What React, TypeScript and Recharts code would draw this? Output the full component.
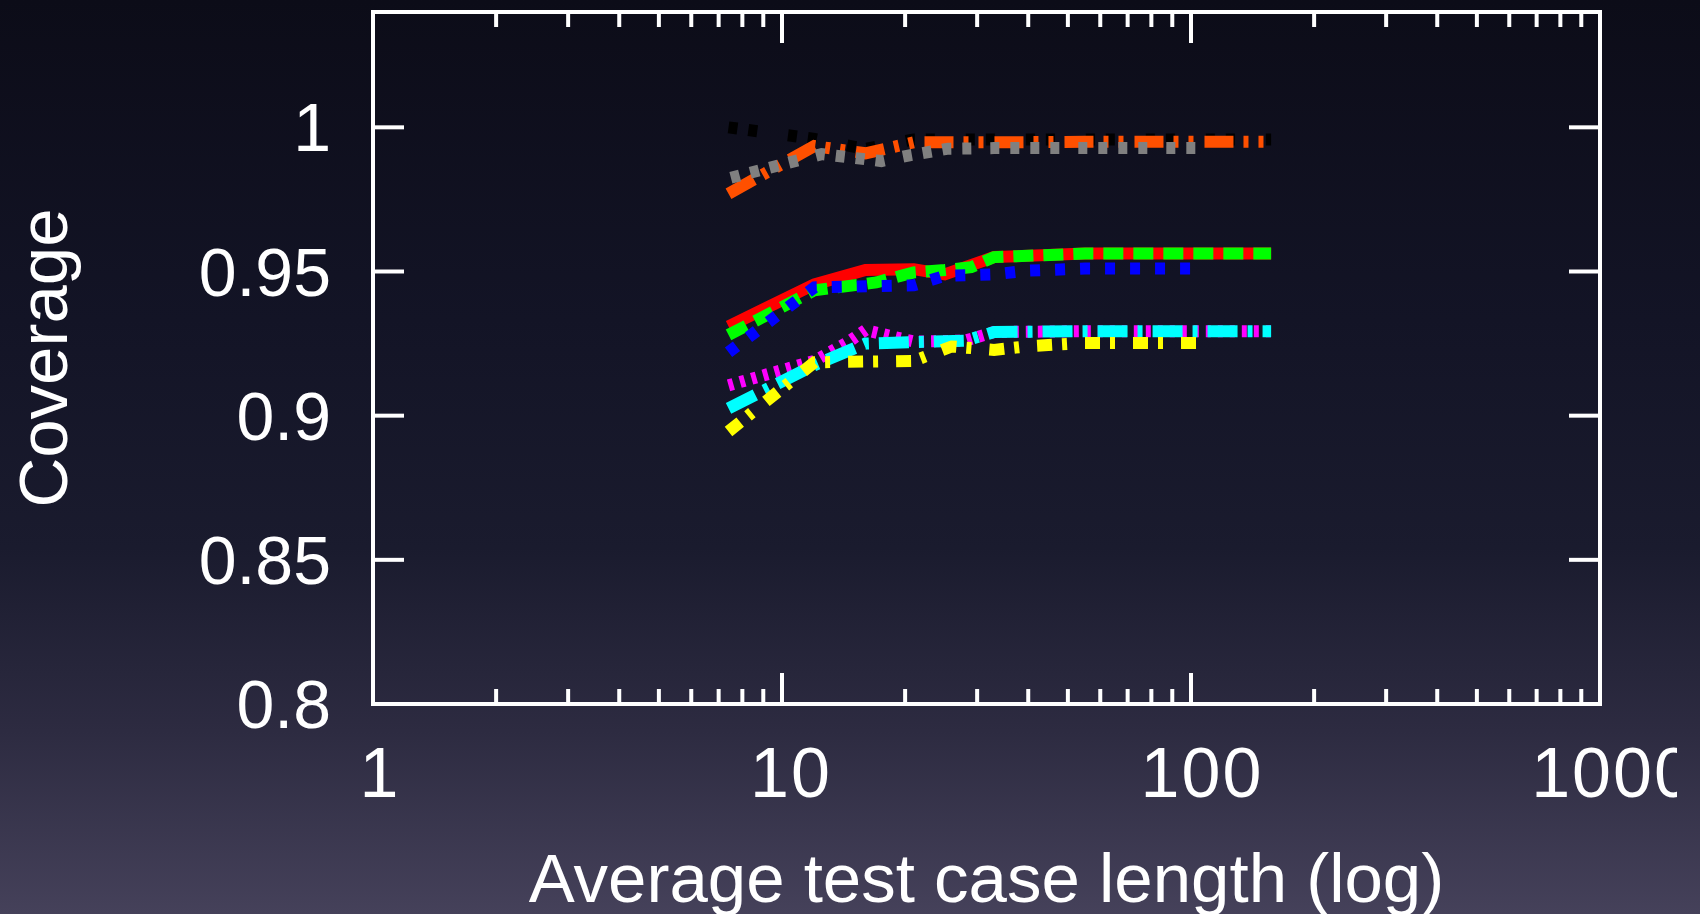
import * as React from "react";
import { LineChart, Line, XAxis, YAxis } from "recharts";

// x = average test case length, y = coverage
const blackSeries = [
  { x: 7.4, y: 1.0 }, { x: 12, y: 0.996 }, { x: 16, y: 0.9925 }, { x: 21, y: 0.9958 },
  { x: 33, y: 0.9958 }, { x: 55, y: 0.9958 }, { x: 105, y: 0.9958 }, { x: 157, y: 0.9958 },
];
const orangeSeries = [
  { x: 7.4, y: 0.977 }, { x: 12, y: 0.9935 }, { x: 16, y: 0.991 }, { x: 21, y: 0.9948 },
  { x: 33, y: 0.9948 }, { x: 55, y: 0.995 }, { x: 105, y: 0.995 }, { x: 157, y: 0.995 },
];
const graySeries = [
  { x: 7.5, y: 0.9825 }, { x: 12.5, y: 0.9907 }, { x: 17.5, y: 0.9883 }, { x: 20.5, y: 0.9903 },
  { x: 25.5, y: 0.9926 }, { x: 33, y: 0.9928 }, { x: 55, y: 0.9928 }, { x: 106, y: 0.9928 },
];
const redSeries = [
  { x: 7.4, y: 0.931 }, { x: 12, y: 0.9455 }, { x: 16, y: 0.9505 }, { x: 21, y: 0.9508 },
  { x: 25, y: 0.949 }, { x: 33, y: 0.955 }, { x: 55, y: 0.9562 }, { x: 157, y: 0.9562 },
];
const greenSeries = [
  { x: 7.4, y: 0.928 }, { x: 12, y: 0.9435 }, { x: 17, y: 0.9462 }, { x: 21, y: 0.9497 },
  { x: 25, y: 0.9505 }, { x: 29, y: 0.9515 }, { x: 33, y: 0.955 }, { x: 55, y: 0.9562 },
  { x: 157, y: 0.9562 },
];
const blueSeries = [
  { x: 7.4, y: 0.922 }, { x: 12, y: 0.9445 }, { x: 21, y: 0.9452 }, { x: 25, y: 0.9485 },
  { x: 33, y: 0.949 }, { x: 40, y: 0.9503 }, { x: 55, y: 0.951 }, { x: 105, y: 0.951 },
];
const magentaSeries = [
  { x: 7.4, y: 0.9105 }, { x: 12, y: 0.919 }, { x: 14.5, y: 0.9255 }, { x: 16, y: 0.9297 },
  { x: 21, y: 0.9257 }, { x: 28, y: 0.926 }, { x: 33, y: 0.929 }, { x: 55, y: 0.9293 },
  { x: 157, y: 0.9293 },
];
const cyanSeries = [
  { x: 7.4, y: 0.9025 }, { x: 12, y: 0.9175 }, { x: 16, y: 0.925 }, { x: 21, y: 0.9255 },
  { x: 28, y: 0.926 }, { x: 33, y: 0.929 }, { x: 55, y: 0.9293 }, { x: 157, y: 0.9293 },
];
const yellowSeries = [
  { x: 7.4, y: 0.8945 }, { x: 12, y: 0.9185 }, { x: 21, y: 0.919 }, { x: 26, y: 0.924 },
  { x: 33, y: 0.9228 }, { x: 40, y: 0.9241 }, { x: 55, y: 0.9252 }, { x: 106, y: 0.9252 },
];

const xMajorTicks = [1, 10, 100, 1000];
const xMinorTicks = [2, 3, 4, 5, 6, 7, 8, 9, 20, 30, 40, 50, 60, 70, 80, 90, 200, 300, 400, 500, 600, 700, 800, 900];
const xAllTicks = [...xMajorTicks, ...xMinorTicks].sort((a, b) => a - b);
const yTicks = [0.8, 0.85, 0.9, 0.95, 1];

const FONT = "'Liberation Sans', Arial, Helvetica, sans-serif";
const WHITE = "#ffffff";
const MAJOR = 31;
const MINOR = 15;

const series = [
  { name: "black", data: blackSeries, color: "#000000", dash: "9 11 9 31" },
  { name: "orange", data: orangeSeries, color: "#ff5000", dash: "29 10 5 10 5 11" },
  { name: "gray", data: graySeries, color: "#808080", dash: "9 11 9 11 9 11 9 19" },
  { name: "red", data: redSeries, color: "#ff0000", dash: undefined },
  { name: "green", data: greenSeries, color: "#00ff00", dash: "20 10" },
  { name: "blue", data: blueSeries, color: "#0000ff", dash: "10 15" },
  { name: "magenta", data: magentaSeries, color: "#ff00ff", dash: "5 7" },
  { name: "cyan", data: cyanSeries, color: "#00ffff", dash: "30 10 5 10" },
  { name: "yellow", data: yellowSeries, color: "#ffff00", dash: "15 10 5 18" },
];

function BottomTick(props: any) {
  const { x, y, payload } = props;
  const major = xMajorTicks.includes(payload.value);
  const label = String(payload.value);
  return (
    <g>
      <line x1={x} x2={x} y1={y} y2={y - (major ? MAJOR : MINOR)} stroke={WHITE} strokeWidth={4} />
      {major && (
        <text x={x + 5 + 2 * label.length} y={y + 43} dy="0.71em" textAnchor="middle" fill={WHITE}
          fontSize={70} fontFamily={FONT} letterSpacing={2}>
          {label}
        </text>
      )}
    </g>
  );
}

function TopTick(props: any) {
  const { x, y, payload } = props;
  const major = xMajorTicks.includes(payload.value);
  return <line x1={x} x2={x} y1={y} y2={y + (major ? MAJOR : MINOR)} stroke={WHITE} strokeWidth={4} />;
}

function LeftTick(props: any) {
  const { x, y, payload } = props;
  return (
    <g>
      <line x1={x} x2={x + MAJOR} y1={y} y2={y} stroke={WHITE} strokeWidth={4} />
      <text x={x - 42} y={y} dy="0.355em" textAnchor="end" fill={WHITE} fontSize={68} fontFamily={FONT}>
        {payload.value}
      </text>
    </g>
  );
}

function RightTick(props: any) {
  const { x, y } = props;
  return <line x1={x} x2={x - MAJOR} y1={y} y2={y} stroke={WHITE} strokeWidth={4} />;
}

const axisLine = { stroke: WHITE, strokeWidth: 4, strokeLinecap: "square" as const };

export default function App() {
  return (
    <div
      style={{
        position: "fixed",
        left: 0,
        top: 0,
        width: 1700,
        height: 914,
        background: "linear-gradient(180deg, #0c0c18 0%, #131426 35%, #1a1b2e 60%, #2d2b41 80%, #45415a 100%)",
      }}
    >
      <div style={{ width: 1677, height: 914, overflow: "hidden" }}>
        <LineChart width={1677} height={914} margin={{ top: 12, right: 77, bottom: 0, left: 0 }}>
          <XAxis
            dataKey="x"
            type="number"
            scale="log"
            domain={[1, 1000]}
            allowDataOverflow
            ticks={xAllTicks}
            interval={0}
            height={210}
            tickSize={0}
            tickMargin={0}
            tickLine={false}
            axisLine={axisLine}
            tick={BottomTick}
            label={(p: any) => {
              const vb = p.viewBox;
              return (
                <text x={vb.x + vb.width / 2} y={902} textAnchor="middle" fill={WHITE} fontSize={69} fontFamily={FONT}>
                  Average test case length (log)
                </text>
              );
            }}
          />
          <XAxis
            xAxisId="top"
            orientation="top"
            mirror
            dataKey="x"
            type="number"
            scale="log"
            domain={[1, 1000]}
            allowDataOverflow
            ticks={xAllTicks}
            interval={0}
            height={30}
            tickSize={0}
            tickMargin={0}
            tickLine={false}
            axisLine={axisLine}
            tick={TopTick}
          />
          <YAxis
            type="number"
            domain={[0.8, 1.04]}
            allowDataOverflow
            ticks={yTicks}
            interval={0}
            width={373}
            tickSize={0}
            tickMargin={0}
            tickLine={false}
            axisLine={axisLine}
            tick={LeftTick}
            label={(p: any) => {
              const vb = p.viewBox;
              const cy = vb.y + vb.height / 2;
              return (
                <text x={67} y={cy} textAnchor="middle" fill={WHITE} fontSize={69} fontFamily={FONT}
                  transform={`rotate(-90, 67, ${cy})`}>
                  Coverage
                </text>
              );
            }}
          />
          <YAxis
            yAxisId="right"
            orientation="right"
            mirror
            type="number"
            domain={[0.8, 1.04]}
            allowDataOverflow
            ticks={yTicks}
            interval={0}
            width={60}
            tickSize={0}
            tickMargin={0}
            tickLine={false}
            axisLine={axisLine}
            tick={RightTick}
          />
          {series.map((s) => (
            <Line
              key={s.name}
              data={s.data}
              dataKey="y"
              type="linear"
              stroke={s.color}
              strokeWidth={12}
              strokeDasharray={s.dash}
              dot={false}
              activeDot={false}
              isAnimationActive={false}
            />
          ))}
          {/* invisible copy bound to the frame axes so they get a domain */}
          <Line
            xAxisId="top"
            yAxisId="right"
            data={redSeries}
            dataKey="y"
            stroke="none"
            dot={false}
            activeDot={false}
            legendType="none"
            isAnimationActive={false}
          />
        </LineChart>
      </div>
    </div>
  );
}
